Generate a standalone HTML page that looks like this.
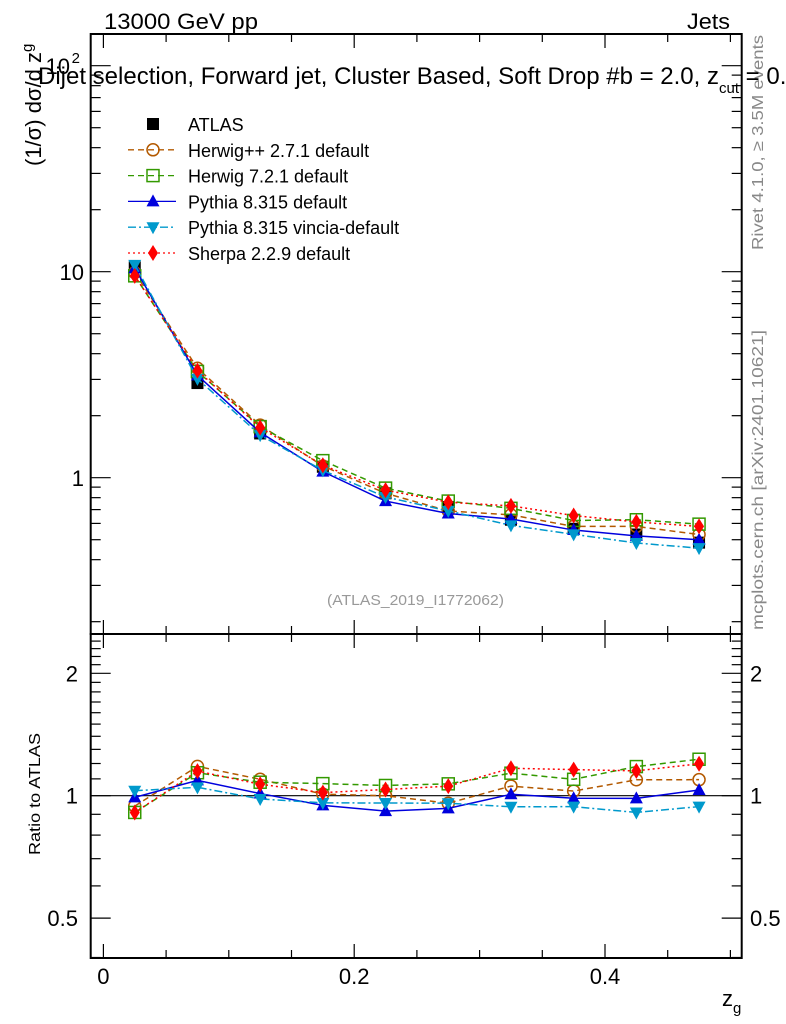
<!DOCTYPE html>
<html><head><meta charset="utf-8"><style>
body{margin:0;background:#fff;width:786px;height:1024px;overflow:hidden}
svg{display:block;font-family:"Liberation Sans",sans-serif}
</style></head><body>
<svg id="c" width="786" height="1024" xmlns="http://www.w3.org/2000/svg">
<text x="104" y="29" font-size="22" textLength="154" lengthAdjust="spacingAndGlyphs">13000 GeV pp</text>
<text x="687" y="29" font-size="22" textLength="43" lengthAdjust="spacingAndGlyphs">Jets</text>
<text x="327" y="605" font-size="15" fill="#999" textLength="177" lengthAdjust="spacingAndGlyphs">(ATLAS_2019_I1772062)</text>
<text transform="translate(763,250) rotate(-90)" font-size="16" fill="#888" textLength="215" lengthAdjust="spacingAndGlyphs">Rivet 4.1.0, ≥ 3.5M events</text>
<text transform="translate(763,630) rotate(-90)" font-size="16" fill="#888" textLength="300" lengthAdjust="spacingAndGlyphs">mcplots.cern.ch [arXiv:2401.10621]</text>
<text transform="translate(41,166) rotate(-90)" font-size="22">(1/σ) dσ/d z<tspan font-size="15" dy="-9">g</tspan></text>
<text transform="translate(40,855) rotate(-90)" font-size="16" textLength="122" lengthAdjust="spacingAndGlyphs">Ratio to ATLAS</text>
<text x="722" y="1006" font-size="22">z<tspan font-size="15" dy="7">g</tspan></text>
<g id="g"></g>
<text x="38" y="84" font-size="24">Dijet selection, Forward jet, Cluster Based, Soft Drop #b = 2.0, z<tspan font-size="15" dy="9">cut</tspan><tspan dy="-9"> = 0.1</tspan></text>
</svg>
<script>
const xCenters=[0.025,0.075,0.125,0.175,0.225,0.275,0.325,0.375,0.425,0.475];
const atlas=[10.5,2.88,1.64,1.13,0.84,0.72,0.625,0.565,0.53,0.484];
const herwigpp=[9.9,3.40,1.80,1.14,0.84,0.69,0.66,0.58,0.58,0.53];
const herwig7=[9.55,3.28,1.77,1.21,0.89,0.77,0.71,0.62,0.625,0.595];
const pythia=[10.4,3.14,1.66,1.07,0.77,0.67,0.63,0.557,0.522,0.50];
const vincia=[10.8,3.02,1.61,1.085,0.806,0.69,0.587,0.531,0.482,0.455];
const sherpa=[9.55,3.31,1.75,1.15,0.87,0.76,0.73,0.655,0.61,0.58];
const seriesNames=["Herwig++ 2.7.1 default","Herwig 7.2.1 default","Pythia 8.315 default","Pythia 8.315 vincia-default","Sherpa 2.2.9 default"];
const xTicks=[0,0.2,0.4];
const xTickLabels=["0","0.2","0.4"];
const ratioTicks=[0.5,1,2];
const ratioTickLabels=["0.5","1","2"];

const NS="http://www.w3.org/2000/svg";
const G=document.getElementById('g');
const L=90.7,R=741.7,T=34,MB=634,RB=958;
const X=v=>103.4+v*1254;
const Y=v=>271.7-(Math.log10(v)-1)*206;
const YR=v=>795.7-Math.log2(v)*122.4;
function mk(tag,at,parent){const e=document.createElementNS(NS,tag);for(const k in at)e.setAttribute(k,at[k]);(parent||G).appendChild(e);return e;}
function tx(x,y,s,size,anchor){const e=mk('text',{x:x,y:y,'font-size':size,'text-anchor':anchor||'start'});e.textContent=s;return e;}

let f=mk('rect',{x:L,y:T,width:R-L,height:MB-T,fill:'none',stroke:'#000','stroke-width':2});


f=mk('rect',{x:L,y:MB,width:R-L,height:RB-MB,fill:'none',stroke:'#000','stroke-width':2});



for(let i=0;i<=10;i++){const v=i*0.05,x=X(v);if(x>R)continue;const maj=i%4===0;const len=maj?14:8;
 [T,MB].forEach(y0=>mk('line',{x1:x,x2:x,y1:y0,y2:y0+len,stroke:'#000','stroke-width':1.2}));
 [MB,RB].forEach(y0=>mk('line',{x1:x,x2:x,y1:y0,y2:y0-len,stroke:'#000','stroke-width':1.2}));}
xTicks.forEach((v,i)=>{const t=tx(X(v),984,xTickLabels[i],22,'middle');
 
 });

for(let d=-1;d<=2;d++)for(let m=1;m<10;m++){const v=m*Math.pow(10,d);const y=Y(v);if(y<T||y>MB)continue;const len=m===1?20:10;
 mk('line',{x1:L,x2:L+len,y1:y,y2:y,stroke:'#000','stroke-width':1.2});
 mk('line',{x1:R,x2:R-len,y1:y,y2:y,stroke:'#000','stroke-width':1.2});}
let t=tx(84,280,'10',22,'end');
t=tx(84,486,'1',22,'end');
t=tx(70,74,'10',22,'end');
tx(80,63,'2',15,'end');

for(let v=0.4;v<2.55;v+=0.1){const vv=Math.round(v*10)/10;const y=YR(vv);if(y<MB||y>RB)continue;const maj=ratioTicks.includes(vv);const len=maj?20:10;
 mk('line',{x1:L,x2:L+len,y1:y,y2:y,stroke:'#000','stroke-width':1.2});
 mk('line',{x1:R,x2:R-len,y1:y,y2:y,stroke:'#000','stroke-width':1.2});}
ratioTicks.forEach((v,i)=>{let a=tx(78,YR(v)+8,ratioTickLabels[i],22,'end');
 
 
 a=tx(750,YR(v)+8,ratioTickLabels[i],22,'start');
 
 });
mk('line',{x1:L,x2:R,y1:YR(1),y2:YR(1),stroke:'#000','stroke-width':1.2});

const styles=[
 {c:'#b35900',d:'6,4',m:'circle'},
 {c:'#339900',d:'6,4',m:'square'},
 {c:'#0000dd',d:'',m:'up'},
 {c:'#0099cc',d:'8,3,2,3',m:'down'},
 {c:'#ff0000',d:'2,3',m:'diamond'}];
function marker(type,x,y,c,parent){
 if(type==='circle')return mk('circle',{cx:x,cy:y,r:6,fill:'none',stroke:c,'stroke-width':1.5},parent);
 if(type==='square')return mk('rect',{x:x-6,y:y-6,width:12,height:12,fill:'none',stroke:c,'stroke-width':1.5},parent);
 if(type==='up')return mk('polygon',{points:`${x},${y-7} ${x-6.5},${y+5} ${x+6.5},${y+5}`,fill:c},parent);
 if(type==='down')return mk('polygon',{points:`${x},${y+7} ${x-6.5},${y-5} ${x+6.5},${y-5}`,fill:c},parent);
 if(type==='diamond')return mk('polygon',{points:`${x},${y-8} ${x+5},${y} ${x},${y+8} ${x-5},${y}`,fill:c},parent);
 return mk('rect',{x:x-6,y:y-6,width:12,height:12,fill:c},parent);}

atlas.forEach((v,i)=>{const m=marker('sq',X(xCenters[i]),Y(v),'#000');
 
 });

const mcs=[herwigpp,herwig7,pythia,vincia,sherpa];
mcs.forEach((arr,s)=>{const st=styles[s];
 const grp=mk('g',{});
 
 
 mk('polyline',{points:arr.map((v,i)=>X(xCenters[i])+','+Y(v)).join(' '),fill:'none',stroke:st.c,'stroke-width':1.5,'stroke-dasharray':st.d},grp);
 mk('polyline',{points:arr.map((v,i)=>X(xCenters[i])+','+YR(v/atlas[i])).join(' '),fill:'none',stroke:st.c,'stroke-width':1.5,'stroke-dasharray':st.d},grp);
 arr.forEach((v,i)=>{marker(st.m,X(xCenters[i]),Y(v),st.c,grp);marker(st.m,X(xCenters[i]),YR(v/atlas[i]),st.c,grp);});
});

const ly0=124,ldy=25.8;
let lg=marker('sq',153,ly0,'#000');


tx(188,ly0+7,'ATLAS',18);
seriesNames.forEach((n,s)=>{const y=ly0+(s+1)*ldy,st=styles[s];
 const e=mk('g',{});
 
 
 mk('line',{x1:128,x2:176,y1:y,y2:y,stroke:st.c,'stroke-width':1.3,'stroke-dasharray':st.d},e);
 marker(st.m,153,y,st.c,e);
 const tt=tx(188,y+7,n,18);e.appendChild(tt);});
</script>
</body></html>
